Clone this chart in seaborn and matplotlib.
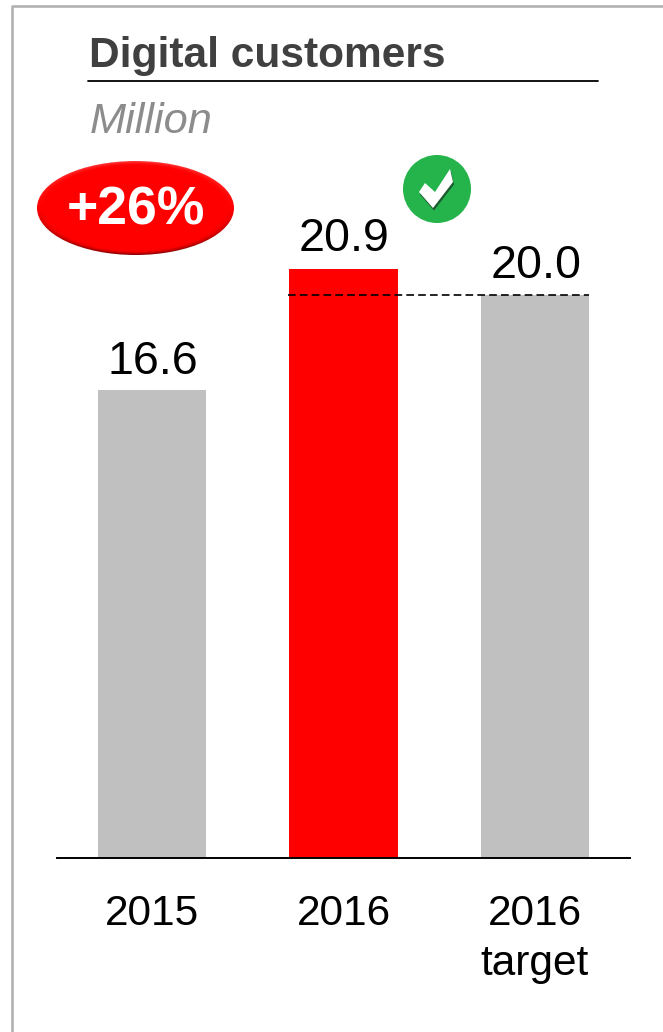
import numpy as np
import pandas as pd
import matplotlib
matplotlib.use("Agg")
import matplotlib.pyplot as plt
from matplotlib.patches import Ellipse, Circle, Polygon
from matplotlib.lines import Line2D
import seaborn as sns

categories = ["2015", "2016", "2016\ntarget"]
customers = [16.6, 20.9, 20.0]
bar_colors = ["#c0c0c0", "#ff0000", "#c0c0c0"]
target = 20.0
growth_label = "+26%"
title = "Digital customers"
unit = "Million"

W, H = 663, 1032
BASE_Y = 858
PX_PER_UNIT = 28.17

sns.set_theme(style="white")
plt.rcParams["font.family"] = ["Liberation Sans", "DejaVu Sans"]

fig = plt.figure(figsize=(W / 100, H / 100), dpi=100, facecolor="white")
ax = fig.add_axes([56.5 / W, 1 - BASE_Y / H, 574 / W, (BASE_Y - 150) / H])
ax.set_facecolor("none")

df = pd.DataFrame({"category": categories, "customers": customers})
sns.barplot(data=df, x="category", y="customers", hue="category", palette=bar_colors,
            legend=False, width=0.565, saturation=1, linewidth=0, ax=ax)
ax.set_xlim(-0.5, 2.5)
ax.set_ylim(0, (BASE_Y - 150) / PX_PER_UNIT)
ax.set_xlabel("")
ax.set_ylabel("")
ax.set_yticks([])
for side in ("top", "left", "right"):
    ax.spines[side].set_visible(False)
ax.spines["bottom"].set_color("black")
ax.spines["bottom"].set_linewidth(1.4)
ax.tick_params(axis="x", length=0, pad=26, labelsize=30.5, labelcolor="black")
for lab in ax.get_xticklabels():
    lab.set_linespacing(1.32)

# Dashed reference line at the target level
ax.plot([0.7075, 2.285], [target, target], color="black", lw=1.2, ls=(0, (4.6, 2.5)), zorder=5)

# Value labels above each bar
for i, (v, pad) in enumerate(zip(customers, [4.5, 6, 4.5])):
    ax.annotate(f"{v:.1f}", (i + (0.005 if i == 2 else 0.005), v), xytext=(0, pad), textcoords="offset points",
                ha="center", va="bottom", fontsize=33.6, color="black", zorder=6, clip_on=False)

# Overlay in pixel coordinates for the header, frame and badges
ov = fig.add_axes([0, 0, 1, 1], facecolor="none")
ov.set_xlim(0, W)
ov.set_ylim(H, 0)
ov.axis("off")

ov.add_line(Line2D([11.5, 11.5, W], [H, 5.5, 5.5], color="#b2b2b2", lw=1.9))
ov.add_line(Line2D([88, 598], [81, 81], color="black", lw=1.3))
ov.text(89, 67, title, fontsize=30.6, fontweight="bold", color="#404040", va="baseline", ha="left")
ov.text(90, 133, unit, fontsize=31.2, style="italic", color="#8c8c8c", va="baseline", ha="left")

# Red pill badge with a shaded rim
cx, cy, rx, ry = 135.5, 208, 98.5, 47
yy, xx = np.mgrid[-1:1:200j, -1:1:400j]
rr = np.sqrt(xx ** 2 + yy ** 2)
rim = np.clip((rr - 0.9) / 0.1, 0, 1) ** 2
dark = np.clip(yy, 0, 1)
light = np.clip(-yy, 0, 1)
img = np.ones((200, 400, 3))
img[..., 0] = 1 - rim * dark * 0.5
img[..., 1] = rim * light * 0.25
img[..., 2] = rim * light * 0.25
im = ov.imshow(img, extent=[cx - rx, cx + rx, cy + ry, cy - ry], aspect="auto", zorder=3, interpolation="bilinear")
im.set_clip_path(Ellipse((cx, cy), 2 * rx, 2 * ry, transform=ov.transData))
ov.set_xlim(0, W)
ov.set_ylim(H, 0)
ov.text(cx, 224.5, growth_label, fontsize=38.5, fontweight="bold", color="white", ha="center", va="baseline", zorder=4)

# Green tick badge
ov.add_patch(Circle((437, 189), 34, facecolor="#25b34b", edgecolor="none", zorder=3))
tick = np.array([[419, 192], [425, 183], [435, 192], [450, 169], [453, 182], [433, 208]])
ov.add_patch(Polygon(tick + [1.0, 2.5], closed=True, facecolor="#1c5a30", edgecolor="none", zorder=4))
ov.add_patch(Polygon(tick, closed=True, facecolor="white", edgecolor="none", zorder=5))

fig.savefig("out.png", dpi=100, facecolor="white")
